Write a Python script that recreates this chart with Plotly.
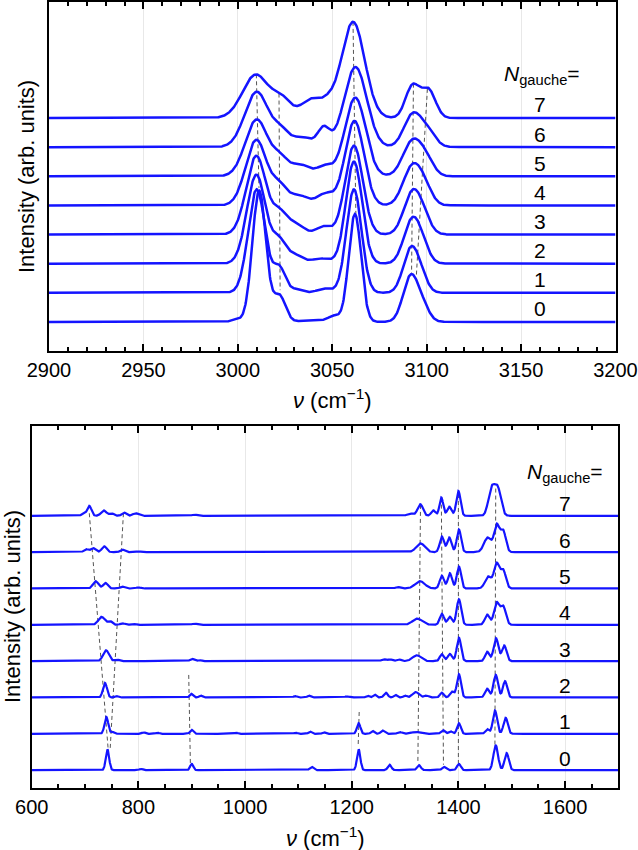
import numpy as np
import plotly.graph_objects as go

# ---------------- data ----------------
N_VALUES = [0, 1, 2, 3, 4, 5, 6, 7]

# Top panel (C-H stretch region): peaks as [centre cm-1, height, width sigma]
TOP_N0 = [[2999, 0.08, 2.5], [3011.3, 4.5, 3.6], [3022, 0.9, 3.2], [3040, 0.06, 6],
          [3051, 0.2, 3], [3062, 3.7, 3.3], [3091.5, 1.55, 4.0], [3098, 0.45, 3.5]]
TOP_N1 = [[3010, 3.55, 4.5], [3022, 0.85, 3.2], [3031, 0.12, 3], [3046, 0.14, 4],
          [3061.5, 3.55, 4.0], [3091.5, 1.45, 4.0], [3097, 0.45, 3.5]]
TOP_N2 = [[3009.8, 3.05, 5.0], [3021.8, 0.75, 3.5], [3030, 0.3, 4], [3044, 0.18, 5],
          [3061.5, 3.5, 4.3], [3092, 1.4, 4.3], [3097.5, 0.5, 3.8]]
TOP_N3 = [[3009.8, 2.7, 5.3], [3022, 0.65, 3.5], [3030, 0.4, 4.5], [3045.5, 0.28, 4],
          [3061.5, 3.05, 4.7], [3092.2, 1.35, 4.5], [3098, 0.5, 4]]
TOP_N4 = [[3009.8, 2.25, 5.6], [3022, 0.6, 3.8], [3032, 0.35, 5], [3046.5, 0.4, 4.5],
          [3061.8, 2.9, 5.0], [3092.3, 1.3, 4.8], [3099, 0.5, 4]]
TOP_N5 = [[3010, 1.95, 6.0], [3022.5, 0.55, 4], [3033, 0.4, 5], [3046, 0.35, 4],
          [3062.2, 2.7, 5.5], [3092.5, 1.2, 5.0], [3100, 0.45, 4]]
TOP_N6 = [[3010, 1.9, 6.3], [3023, 0.5, 4], [3034, 0.35, 5], [3045.5, 0.65, 3.2],
          [3062.3, 2.75, 6.0], [3092.5, 1.1, 4.6], [3100.5, 0.5, 4.2]]
TOP_N7 = [[3009.5, 1.48, 7.0], [3022.5, 0.4, 4], [3030, 0.3, 8], [3039, 0.45, 4],
          [3047, 0.45, 4], [3061, 3.3, 6.2], [3092.5, 1.1, 3.7], [3101, 0.95, 3.7]]

# Bottom panel (fingerprint region)
BOT_N0 = [[742, 0.57, 3.2], [805, 0.035, 3], [900, 0.17, 3], [985, 0.015, 4], [1030, 0.015, 4],
          [1052, 0.02, 4], [1078, 0.02, 4], [1125, 0.09, 3.5], [1213, 0.57, 3.2],
          [1271, 0.15, 3.3], [1326, 0.14, 3.5], [1373, 0.09, 3.5], [1401, 0.17, 3.5],
          [1470, 0.68, 4.3], [1490.5, 0.47, 4.0]]
BOT_N1 = [[740, 0.46, 3.5], [752, 0.05, 3], [810, 0.04, 3], [836, 0.03, 3], [900, 0.11, 3],
          [983, 0.03, 3], [1095, 0.03, 3], [1122, 0.06, 3], [1148, 0.04, 3], [1213, 0.29, 3.3],
          [1239, 0.08, 3], [1258, 0.09, 3.5], [1290, 0.05, 4], [1320, 0.05, 8], [1371, 0.1, 3.5],
          [1385, 0.07, 3.5], [1401, 0.29, 3.5], [1454, 0.13, 3.5], [1468.6, 0.64, 4.0],
          [1488.6, 0.44, 4.0]]
BOT_N2 = [[737.4, 0.40, 3.8], [759, 0.04, 3], [810, 0.02, 3], [832, 0.02, 3], [899, 0.1, 3],
          [917, 0.05, 3], [960, 0.015, 4], [1040, 0.015, 4], [1094, 0.04, 3], [1120, 0.05, 3],
          [1191, 0.03, 4], [1230, 0.05, 3], [1243, 0.08, 3], [1264, 0.13, 3.5], [1282, 0.07, 3],
          [1300, 0.05, 3], [1320, 0.15, 6], [1340, 0.05, 4], [1369, 0.13, 3.5], [1388, 0.16, 4],
          [1401, 0.64, 3.8], [1454, 0.24, 4], [1470, 0.62, 4.2], [1487.5, 0.45, 4]]
BOT_N3 = [[739.3, 0.30, 5.5], [760, 0.04, 4], [901, 0.06, 4], [915, 0.03, 3], [1000, 0.02, 5],
          [1100, 0.02, 5], [1180, 0.02, 5], [1260, 0.05, 4], [1272, 0.05, 4], [1288, 0.05, 4],
          [1322, 0.16, 8], [1369, 0.19, 3.8], [1384, 0.2, 4], [1401, 0.64, 4],
          [1454, 0.26, 4], [1470.5, 0.63, 4.5], [1486, 0.43, 4.3]]
BOT_N4 = [[731, 0.22, 6], [747, 0.1, 4], [770, 0.04, 4], [790, 0.03, 4], [905, 0.03, 5],
          [990, 0.015, 5], [1150, 0.015, 5], [1250, 0.02, 5], [1323, 0.17, 9], [1369, 0.3, 4],
          [1384, 0.22, 4], [1401, 0.7, 4.2], [1454, 0.28, 4.5], [1471.7, 0.6, 5], [1484, 0.5, 5]]
BOT_N5 = [[720, 0.2, 5], [738.5, 0.15, 4.5], [770, 0.05, 4], [800, 0.03, 4], [905, 0.02, 5],
          [1060, 0.015, 5], [1200, 0.015, 5], [1286, 0.04, 4], [1328, 0.2, 9], [1369, 0.35, 4],
          [1384, 0.42, 4], [1401, 0.6, 4], [1456, 0.33, 6], [1471.7, 0.68, 5], [1484, 0.5, 5]]
BOT_N6 = [[702, 0.08, 4], [715, 0.11, 4.5], [736, 0.16, 4.5], [770, 0.07, 4], [800, 0.02, 4],
          [910, 0.02, 5], [1100, 0.015, 5], [1260, 0.02, 5], [1329, 0.24, 8], [1369, 0.43, 4],
          [1383, 0.4, 4], [1401, 0.62, 4], [1455, 0.4, 7], [1472, 0.73, 5], [1484, 0.58, 5]]
BOT_N7 = [[697, 0.05, 4], [708, 0.27, 4], [735, 0.15, 5], [750, 0.07, 4], [773, 0.09, 4],
          [795, 0.07, 5], [905, 0.03, 5], [970, 0.015, 5], [1200, 0.02, 5], [1270, 0.02, 5],
          [1310, 0.06, 6], [1328.5, 0.32, 5], [1353, 0.15, 4], [1368, 0.5, 3.5],
          [1383, 0.25, 4], [1400, 0.68, 4], [1462, 0.72, 6], [1474, 0.72, 6]]

TOP_PEAKS = [TOP_N0, TOP_N1, TOP_N2, TOP_N3, TOP_N4, TOP_N5, TOP_N6, TOP_N7]
BOT_PEAKS = [BOT_N0, BOT_N1, BOT_N2, BOT_N3, BOT_N4, BOT_N5, BOT_N6, BOT_N7]

# guide (dashed) lines: [x_top, y_top, x_bottom, y_bottom] in data units
TOP_GUIDES = [[3009.8, 8.5, 3011.2, 4.6], [3021.8, 7.84, 3022.4, 1.09],
              [3061.0, 10.3, 3062.5, 3.72], [3093.0, 8.18, 3092.0, 1.66],
              [3100.4, 8.0, 3094.5, 1.54]]
BOT_GUIDES = [[708, 7.07, 743.5, 0.55], [772, 7.07, 747, 0.55], [894.4, 2.62, 897.5, 0.18],
              [1214, 1.6, 1212, 0.64], [1329, 7.3, 1324, 0.18], [1368, 7.5, 1372, 0.15],
              [1400, 7.6, 1400, 0.18], [1470, 7.75, 1468.5, 0.69]]

TOP_XTICKS = [2900, 2950, 3000, 3050, 3100, 3150, 3200]
BOT_XTICKS = [600, 800, 1000, 1200, 1400, 1600]

BLUE = "#1414ff"
FONT = "Liberation Sans, Arial, sans-serif"


def spectrum(x, peaks):
    y = np.zeros_like(x)
    for c, h, s in peaks:
        y += h * np.exp(-0.5 * ((x - c) / s) ** 2)
    return y


xt = np.arange(2900, 3200.01, 0.25)
xb = np.arange(600, 1700.01, 0.5)

fig = go.Figure()

for g in TOP_GUIDES:
    fig.add_trace(go.Scatter(x=[g[0], g[2]], y=[g[1], g[3]], mode="lines",
                             line=dict(color="#555555", width=1, dash="4px,3px"),
                             xaxis="x", yaxis="y", showlegend=False, hoverinfo="skip"))
for g in BOT_GUIDES:
    fig.add_trace(go.Scatter(x=[g[0], g[2]], y=[g[1], g[3]], mode="lines",
                             line=dict(color="#555555", width=1, dash="4px,3px"),
                             xaxis="x2", yaxis="y2", showlegend=False, hoverinfo="skip"))

for n, pk in zip(N_VALUES, TOP_PEAKS):
    fig.add_trace(go.Scatter(x=xt, y=n + spectrum(xt, pk), mode="lines",
                             line=dict(color=BLUE, width=2.5), xaxis="x", yaxis="y",
                             showlegend=False, hoverinfo="skip"))
for n, pk in zip(N_VALUES, BOT_PEAKS):
    fig.add_trace(go.Scatter(x=xb, y=n + spectrum(xb, pk), mode="lines",
                             line=dict(color=BLUE, width=2.2), xaxis="x2", yaxis="y2",
                             showlegend=False, hoverinfo="skip"))

ann = []
CM = dict(xanchor="center", yanchor="middle", showarrow=False)
for n in N_VALUES:
    ann.append(dict(x=3160, y=n + 0.45, xref="x", yref="y", text=str(n),
                    font=dict(size=21, color="black", family=FONT), **CM))
    ann.append(dict(x=1600.5, y=n + 0.33, xref="x2", yref="y2", text=str(n),
                    font=dict(size=21, color="black", family=FONT), **CM))
ann.append(dict(x=3161, y=8.47, xref="x", yref="y", text="<i>N</i><sub>gauche</sub>=",
                font=dict(size=21, color="black", family=FONT), **CM))
ann.append(dict(x=1599, y=8.17, xref="x2", yref="y2", text="<i>N</i><sub>gauche</sub>=",
                font=dict(size=21, color="black", family=FONT), **CM))
# axis titles
ann.append(dict(x=332 / 638, y=1 - 399 / 850, xref="paper", yref="paper",
                text="<i>ν</i> (cm<sup>−1</sup>)",
                font=dict(size=22, color="black", family=FONT), **CM))
ann.append(dict(x=325 / 638, y=1 - 837 / 850, xref="paper", yref="paper",
                text="<i>ν</i> (cm<sup>−1</sup>)",
                font=dict(size=22, color="black", family=FONT), **CM))
ann.append(dict(x=26 / 638, y=1 - 177 / 850, xref="paper", yref="paper",
                text="Intensity (arb. units)", textangle=-90,
                font=dict(size=22, color="black", family=FONT), **CM))
ann.append(dict(x=12 / 638, y=1 - 607 / 850, xref="paper", yref="paper",
                text="Intensity (arb. units)", textangle=-90,
                font=dict(size=22, color="black", family=FONT), **CM))

xcommon = dict(ticks="inside", ticklen=7, tickwidth=1.5, tickcolor="black",
               showline=True, linecolor="black", linewidth=2, mirror="ticks",
               showgrid=True, gridcolor="#e8e8e8", gridwidth=1, zeroline=False,
               automargin=False,
               tickfont=dict(size=20, color="black", family=FONT))
ycommon = dict(showticklabels=False, ticks="", showline=True, linecolor="black",
               linewidth=2, mirror=True, showgrid=False, zeroline=False, automargin=False)

fig.update_layout(
    template="none",
    width=638, height=850, margin=dict(l=0, r=0, t=0, b=0, pad=0), autosize=False,
    paper_bgcolor="white", plot_bgcolor="white", showlegend=False,
    xaxis=dict(domain=[49 / 638, 615.5 / 638], anchor="y", range=[2900, 3200],
               tickvals=TOP_XTICKS, minor=dict(dtick=10, tick0=2900, ticks="inside", ticklen=4,
                                               tickwidth=1.5, tickcolor="black", showgrid=False),
               **xcommon),
    yaxis=dict(domain=[1 - 351 / 850, 1 - 1.5 / 850], anchor="x", range=[-1.0, 11.0], **ycommon),
    xaxis2=dict(domain=[31.7 / 638, 618.4 / 638], anchor="y2", range=[600, 1700],
                tickvals=BOT_XTICKS, minor=dict(dtick=50, tick0=600, ticks="inside", ticklen=4,
                                                tickwidth=1.5, tickcolor="black", showgrid=False),
                **xcommon),
    yaxis2=dict(domain=[1 - 788.3 / 850, 1 - 425.7 / 850], anchor="x2", range=[-0.5, 9.48],
                **ycommon),
    annotations=ann,
)

fig.write_html("out.html", config={"displayModeBar": False},
               post_script="document.body.style.margin='0';document.body.style.overflow='hidden';")
